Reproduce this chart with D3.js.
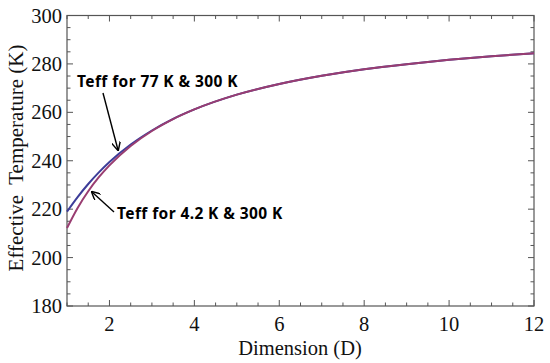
<!DOCTYPE html>
<html><head><meta charset="utf-8">
<script src="https://cdn.jsdelivr.net/npm/d3@7/dist/d3.min.js"></script>
<style>body{margin:0;background:#fff}svg{display:block}</style>
</head><body>
<svg id="c" width="550" height="363"></svg>
<script>
// Data
const dims = [1, 1.25, 1.5, 1.75, 2, 2.5, 3, 3.5, 4, 5, 6, 7, 8, 9, 10, 11, 12];
const teff77 = [219.0, 225.0, 230.4, 235.2, 239.5, 246.7, 252.5, 257.3, 261.2, 267.3, 271.7, 275.1, 277.8, 279.9, 281.7, 283.2, 284.4];
const teff42 = [212.2, 220.5, 227.4, 233.2, 238.1, 246.1, 252.3, 257.2, 261.2, 267.3, 271.7, 275.1, 277.8, 279.9, 281.7, 283.2, 284.4];
const xTicks = [2, 4, 6, 8, 10, 12];
const yTicks = [180, 200, 220, 240, 260, 280, 300];

const svg = d3.select("#c");
const L = 67, R = 534, T = 15.5, B = 306;
const x = d3.scaleLinear().domain([1, 12]).range([L, R]);
const y = d3.scaleLinear().domain([180, 300]).range([B, T]);

const frameCol = "#555";
const xMinor = d3.range(1, 12.001, 0.5);
const yMinor = d3.range(180, 300.001, 5);

const g = svg.append("g");
[B, T].forEach((yy, i) => {
  const dir = i === 0 ? -1 : 1;
  g.selectAll(null).data(xMinor).enter().append("line")
    .attr("x1", d => x(d)).attr("x2", d => x(d))
    .attr("y1", yy).attr("y2", d => yy + dir * (xTicks.includes(d) ? 6 : 3.5))
    .attr("stroke", frameCol).attr("stroke-width", 1);
});
[L, R].forEach((xx, i) => {
  const dir = i === 0 ? 1 : -1;
  g.selectAll(null).data(yMinor).enter().append("line")
    .attr("y1", d => y(d)).attr("y2", d => y(d))
    .attr("x1", xx).attr("x2", d => xx + dir * (yTicks.includes(d) ? 6 : 3.5))
    .attr("stroke", frameCol).attr("stroke-width", 1);
});
svg.append("rect").attr("x", L).attr("y", T).attr("width", R - L).attr("height", B - T)
  .attr("fill", "none").attr("stroke", frameCol).attr("stroke-width", 1.2);

const serif = "Liberation Serif, serif";
svg.selectAll(null).data(xTicks).enter().append("text")
  .attr("x", d => x(d)).attr("y", 331).attr("text-anchor", "middle")
  .attr("font-family", serif).attr("font-size", 20.5).attr("fill", "#111")
  .text(d => d);
svg.selectAll(null).data(yTicks).enter().append("text")
  .attr("x", 62).attr("y", d => y(d) + 7).attr("text-anchor", "end")
  .attr("font-family", serif).attr("font-size", 20.5).attr("fill", "#111")
  .text(d => d);

svg.append("text").attr("x", 300).attr("y", 355).attr("text-anchor", "middle")
  .attr("font-family", serif).attr("font-size", 20.5).attr("fill", "#111")
  .text("Dimension (D)");
svg.append("text").attr("transform", "translate(23,158) rotate(-90)").attr("text-anchor", "middle")
  .attr("font-family", serif).attr("font-size", 21).attr("fill", "#111")
  .style("white-space", "pre")
  .text("Effective  Temperature (K)");

const line = d3.line().x((d, i) => x(dims[i])).y(d => y(d)).curve(d3.curveMonotoneX);
svg.append("path").attr("d", line(teff77)).attr("fill", "none").attr("stroke", "#3d3d99").attr("stroke-width", 2);
svg.append("path").attr("d", line(teff42)).attr("fill", "none").attr("stroke", "#993d71").attr("stroke-width", 2);

svg.append("defs").append("marker").attr("id", "ah").attr("viewBox", "0 0 10 10")
  .attr("refX", 9).attr("refY", 5).attr("markerWidth", 9).attr("markerHeight", 9)
  .attr("markerUnits", "userSpaceOnUse").attr("orient", "auto")
  .append("path").attr("d", "M0,0 L10,5 L0,10").attr("fill", "none").attr("stroke", "#000").attr("stroke-width", 1.6);
const ann = svg.append("g").attr("font-family", "Noto Sans, sans-serif").attr("font-weight", "bold")
  .attr("font-size", 15.5).attr("letter-spacing", 0.4).attr("fill", "#000");
ann.append("text").attr("x", 77).attr("y", 86.5).text("Teff for 77 K & 300 K");
ann.append("text").attr("x", 117).attr("y", 219).text("Teff for 4.2 K & 300 K");
svg.append("line").attr("x1", 103).attr("y1", 93).attr("x2", 118).attr("y2", 150)
  .attr("stroke", "#000").attr("stroke-width", 1.4).attr("marker-end", "url(#ah)");
svg.append("line").attr("x1", 114).attr("y1", 212).attr("x2", 92).attr("y2", 192)
  .attr("stroke", "#000").attr("stroke-width", 1.4).attr("marker-end", "url(#ah)");
</script>
</body></html>
